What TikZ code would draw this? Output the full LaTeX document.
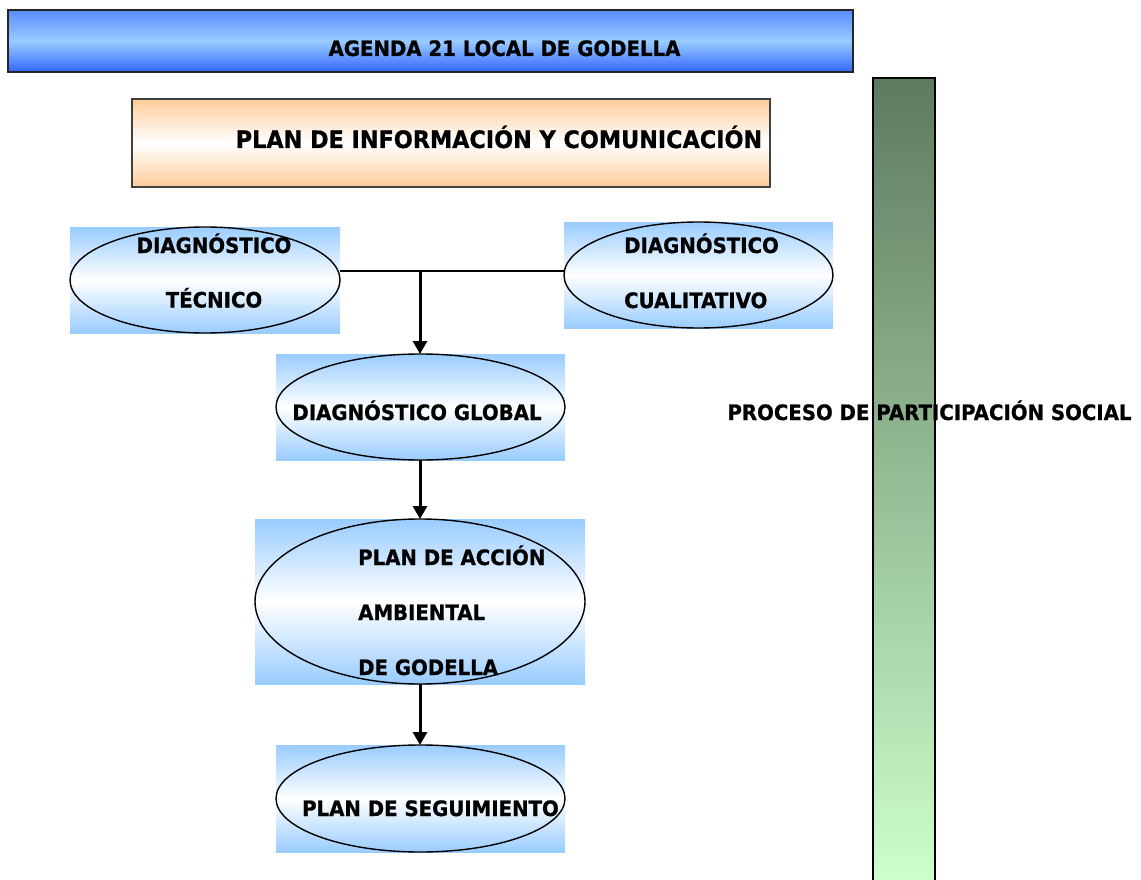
\documentclass[tikz,border=0pt]{standalone}
\usepackage{fontspec}
\setmainfont[FakeStretch=0.93, BoldFeatures={FakeBold=0.8}]{DejaVu Sans}
\usetikzlibrary{arrows.meta,shapes.geometric}
\definecolor{lblue}{RGB}{153,204,255}
\definecolor{dblue}{RGB}{51,102,255}
\definecolor{tblue}{RGB}{90,140,255}
\definecolor{lorange}{RGB}{255,204,153}
\definecolor{dgreen}{RGB}{95,122,95}
\definecolor{lgreen}{RGB}{204,255,204}
\begin{document}
\begin{tikzpicture}[x=1pt,y=-1pt,
  bgbox/.style={rectangle, inner sep=0pt, outer sep=0pt, top color=lblue, bottom color=lblue, middle color=white},
  oval/.style={ellipse, draw=black, line width=1.4pt, inner sep=0pt, outer sep=0pt},
  lbl/.style={font=\bfseries\fontsize{21.2}{25}\selectfont, inner sep=0pt, anchor=base},
  lbll/.style={lbl, anchor=base west},
  arr/.style={line width=3pt, -{Triangle[length=13pt,width=14pt]}},
]
\useasboundingbox (0,0) rectangle (1141,880);

% banner
\node[rectangle, draw=black!85, line width=1.6pt, inner sep=0pt,
  top color=tblue, bottom color=dblue, middle color=lblue,
  minimum width=845pt, minimum height=62pt] (banner) at (430.5,41) {};
\node[lbl] (bannertxt) at (504.5,56) {AGENDA 21 LOCAL DE GODELLA};

% orange box
\node[rectangle, draw=black!75, line width=1.4pt, inner sep=0pt,
  top color=lorange, bottom color=lorange, middle color=white,
  minimum width=638pt, minimum height=88pt] (info) at (451,143) {};
\node[lbl, font=\bfseries\fontsize{24}{28}\selectfont] (infotxt) at (499,148) {PLAN DE INFORMACIÓN Y COMUNICACIÓN};

% green bar
\node[rectangle, draw=black, line width=2.4pt, inner sep=0pt,
  top color=dgreen, bottom color=lgreen,
  minimum width=62pt, minimum height=806pt] (bar) at (904,481) {};
\node[lbl] (proc) at (929.5,420) {PROCESO DE PARTICIPACIÓN SOCIAL};

% diagnostico tecnico
\node[bgbox, minimum width=270pt, minimum height=106pt] (tecbg) at (205,280) {};
\node[oval, minimum width=270pt, minimum height=106pt] (tec) at (205,280) {};
\node[lbl] (tecA) at (214,253) {DIAGNÓSTICO};
\node[lbl] (tecB) at (214,307.5) {TÉCNICO};

% diagnostico cualitativo
\node[bgbox, minimum width=269pt, minimum height=106pt] (cualbg) at (698.5,275) {};
\node[oval, minimum width=269pt, minimum height=106pt] (cual) at (698.5,275) {};
\node[lbll] (cualA) at (624,253) {DIAGNÓSTICO};
\node[lbll] (cualB) at (624,308) {CUALITATIVO};

% diagnostico global
\node[bgbox, minimum width=289pt, minimum height=106pt] (globbg) at (420.5,407) {};
\node[oval, minimum width=289pt, minimum height=106pt] (glob) at (420.5,407) {};
\node[lbl] (globtxt) at (417,420) {DIAGNÓSTICO GLOBAL};

% plan de accion
\node[bgbox, minimum width=330pt, minimum height=165pt] (accbg) at (420,601.5) {};
\node[oval, minimum width=330pt, minimum height=165pt] (acc) at (420,601.5) {};
\node[lbll] (accA) at (358,565) {PLAN DE ACCIÓN};
\node[lbll] (accB) at (358,620) {AMBIENTAL};
\node[lbll] (accC) at (358,675) {DE GODELLA};

% plan de seguimiento
\node[bgbox, minimum width=289pt, minimum height=107pt] (segbg) at (420.5,798.5) {};
\node[oval, minimum width=289pt, minimum height=107pt] (seg) at (420.5,798.5) {};
\node[lbl] (segtxt) at (430.5,816) {PLAN DE SEGUIMIENTO};

% connectors
\coordinate (j) at (420,271);
\draw[line width=1.5pt] (tec.east |- j) -- (cual.west |- j);
\draw[arr] (j) -- (j |- glob.north);
\draw[arr] (j |- glob.south) -- (j |- acc.north);
\draw[arr] (j |- acc.south) -- (j |- seg.north);
\end{tikzpicture}
\end{document}
